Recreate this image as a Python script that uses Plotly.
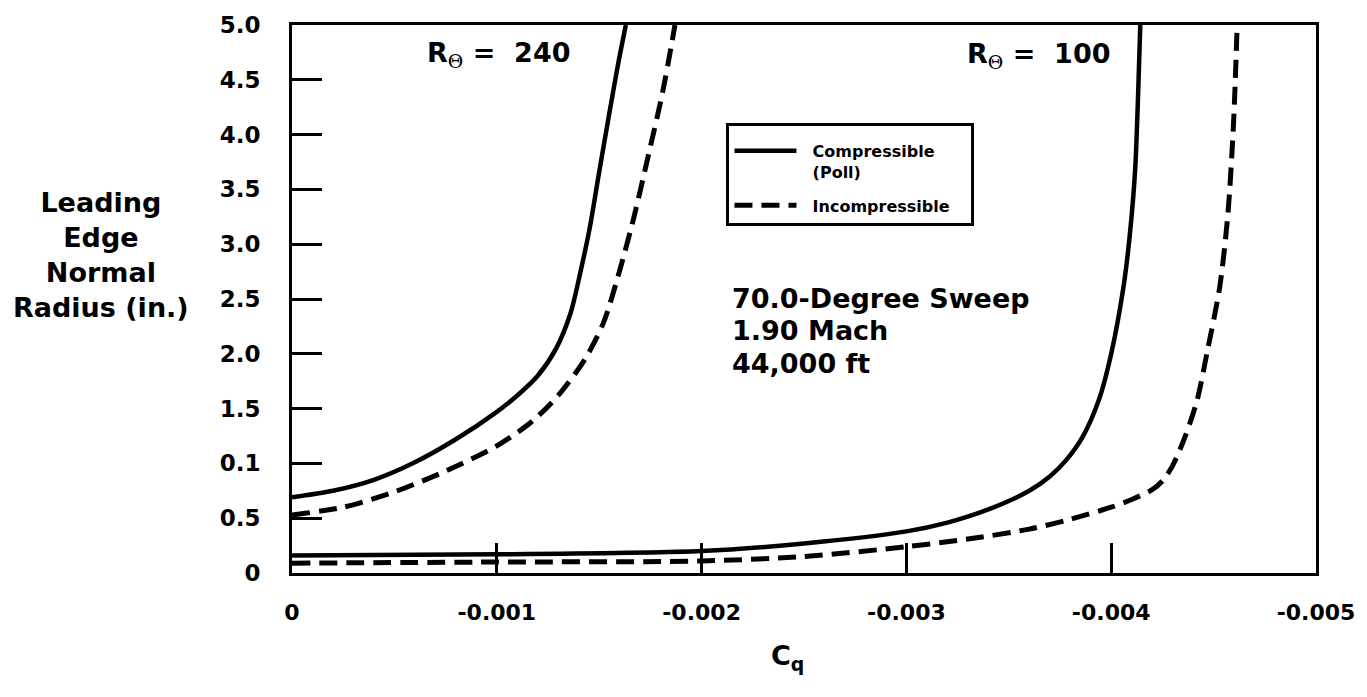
import plotly.graph_objects as go

# ---- data ----
# R_theta = 240, compressible (Poll)
c240_x = [0, -0.0002, -0.0004, -0.0006, -0.0008, -0.001, -0.0011, -0.0012,
          -0.00129, -0.00136, -0.00141, -0.001455, -0.0015, -0.00155, -0.00159, -0.00163]
c240_y = [0.69, 0.75, 0.85, 1.01, 1.22, 1.47, 1.62, 1.80,
          2.05, 2.37, 2.76, 3.16, 3.66, 4.20, 4.62, 5.0]
# R_theta = 240, incompressible
i240_x = [0, -0.00025, -0.0005, -0.00075, -0.001, -0.00117, -0.0013, -0.00143,
          -0.00152, -0.0016, -0.00167, -0.00174, -0.00181, -0.00187]
i240_y = [0.53, 0.60, 0.74, 0.93, 1.16, 1.38, 1.62, 1.95,
          2.28, 2.76, 3.25, 3.81, 4.39, 5.0]
# R_theta = 100, compressible (Poll)
c100_x = [0, -0.001, -0.002, -0.0025, -0.003, -0.0032, -0.0034, -0.0036,
          -0.0037, -0.00378, -0.00386, -0.00394, -0.004, -0.00406, -0.00409,
          -0.004117, -0.004132, -0.004142]
c100_y = [0.16, 0.17, 0.20, 0.27, 0.38, 0.46, 0.58, 0.75,
          0.88, 1.03, 1.24, 1.58, 2.00, 2.61, 3.07,
          3.68, 4.40, 5.0]
# R_theta = 100, incompressible
i100_x = [0, -0.001, -0.002, -0.0025, -0.003, -0.0033, -0.0036, -0.0038,
          -0.004, -0.0041, -0.0042, -0.00425, -0.0043, -0.00436, -0.00442,
          -0.00447, -0.00453, -0.00457, -0.004598, -0.004615]
i100_y = [0.09, 0.10, 0.11, 0.15, 0.24, 0.31, 0.40, 0.49,
          0.60, 0.67, 0.76, 0.84, 0.98, 1.24, 1.58,
          2.03, 2.61, 3.28, 4.13, 5.0]

x_ticks = [0, -0.001, -0.002, -0.003, -0.004, -0.005]
x_ticklabels = ["0", "-0.001", "-0.002", "-0.003", "-0.004", "-0.005"]
y_ticks = [0, 0.5, 1.0, 1.5, 2.0, 2.5, 3.0, 3.5, 4.0, 4.5, 5.0]
y_ticklabels = ["0", "0.5", "0.1", "1.5", "2.0", "2.5", "3.0", "3.5", "4.0", "4.5", "5.0"]

FONT = "DejaVu Sans, Verdana, sans-serif"
solid = dict(color="black", width=4.5)
dashed = dict(color="black", width=5, dash="18px,9px")

fig = go.Figure()
fig.add_trace(go.Scatter(x=c240_x, y=c240_y, mode="lines",
                         line=dict(**solid, shape="spline", smoothing=0.8),
                         name="&nbsp;&nbsp;Compressible<br>&nbsp;&nbsp;(Poll)",
                         legendgroup="c", showlegend=True))
fig.add_trace(go.Scatter(x=i240_x, y=i240_y, mode="lines",
                         line=dict(**dashed, shape="spline", smoothing=0.8),
                         name="&nbsp;&nbsp;Incompressible&nbsp;&nbsp;&nbsp;", legendgroup="i",
                         showlegend=True))
fig.add_trace(go.Scatter(x=c100_x, y=c100_y, mode="lines",
                         line=dict(**solid, shape="spline", smoothing=0.8),
                         name="Compressible (Poll)", legendgroup="c", showlegend=False))
fig.add_trace(go.Scatter(x=i100_x, y=i100_y, mode="lines",
                         line=dict(**dashed, shape="spline", smoothing=0.8),
                         name="Incompressible", legendgroup="i", showlegend=False))

theta = "<sub><span style='font-family:DejaVu Serif, serif;font-weight:normal'>Θ</span></sub>"
big = dict(family=FONT, size=27, color="black", weight="bold")
ann = []
ann.append(dict(x=(500 - 292) / 1030, y=(573 - 54) / 548, xref="paper", yref="paper",
                text="R" + theta + " =&nbsp;&nbsp;240", showarrow=False,
                xanchor="center", yanchor="middle", font=big))
ann.append(dict(x=(1043 - 292) / 1030, y=(573 - 56) / 548, xref="paper", yref="paper",
                text="R" + theta + " =&nbsp;&nbsp;100", showarrow=False,
                xanchor="center", yanchor="middle", font=big))
for txt, py in [("70.0-Degree Sweep", 298), ("1.90 Mach", 331), ("44,000 ft", 363)]:
    ann.append(dict(x=(733 - 292) / 1030, y=(573 - py) / 548, xref="paper", yref="paper",
                    text=txt, xanchor="left", yanchor="middle", showarrow=False, font=big))
ann.append(dict(x=(100 - 292) / 1030, y=(573 - 255) / 548, xref="paper", yref="paper",
                text="Leading<br>Edge<br>Normal<br>Radius (in.)", align="center",
                xanchor="center", yanchor="middle", showarrow=False, font=big))
ann.append(dict(x=(790 - 292) / 1030, y=(573 - 657) / 548, xref="paper", yref="paper",
                text="C<sub>q</sub>", xanchor="center", yanchor="middle",
                showarrow=False, font=big))

fig.update_layout(
    width=1367, height=697,
    margin=dict(l=292, r=45, t=25, b=124),
    paper_bgcolor="white", plot_bgcolor="white",
    annotations=ann,
    showlegend=True,
    legend=dict(x=(729 - 292) / 1030, y=(573 - 123) / 548, xanchor="left", yanchor="top",
                bordercolor="black", borderwidth=3, bgcolor="white",
                font=dict(family=FONT, size=16, color="black", weight="bold"),
                title=dict(text="&nbsp;", font=dict(size=6)),
                itemwidth=62, tracegroupgap=10, valign="top"),
)
fig.update_xaxes(range=[0, -0.005], tickvals=x_ticks, ticktext=x_ticklabels,
                 ticks="inside", ticklen=30, tickwidth=2.5, tickcolor="black",
                 showline=True, linewidth=3, linecolor="black", mirror=True,
                 showgrid=False, zeroline=False, ticklabelstandoff=18,
                 tickfont=dict(family=FONT, size=22, color="black", weight="bold"))
fig.update_yaxes(range=[0, 5], tickvals=y_ticks, ticktext=y_ticklabels,
                 ticks="inside", ticklen=30, tickwidth=2.5, tickcolor="black",
                 showline=True, linewidth=3, linecolor="black", mirror=True,
                 showgrid=False, zeroline=False, ticklabelstandoff=24,
                 tickfont=dict(family=FONT, size=23, color="black", weight="bold"))

fig.write_html("out.html", config={"displayModeBar": False},
               post_script="document.body.style.margin='0';")
